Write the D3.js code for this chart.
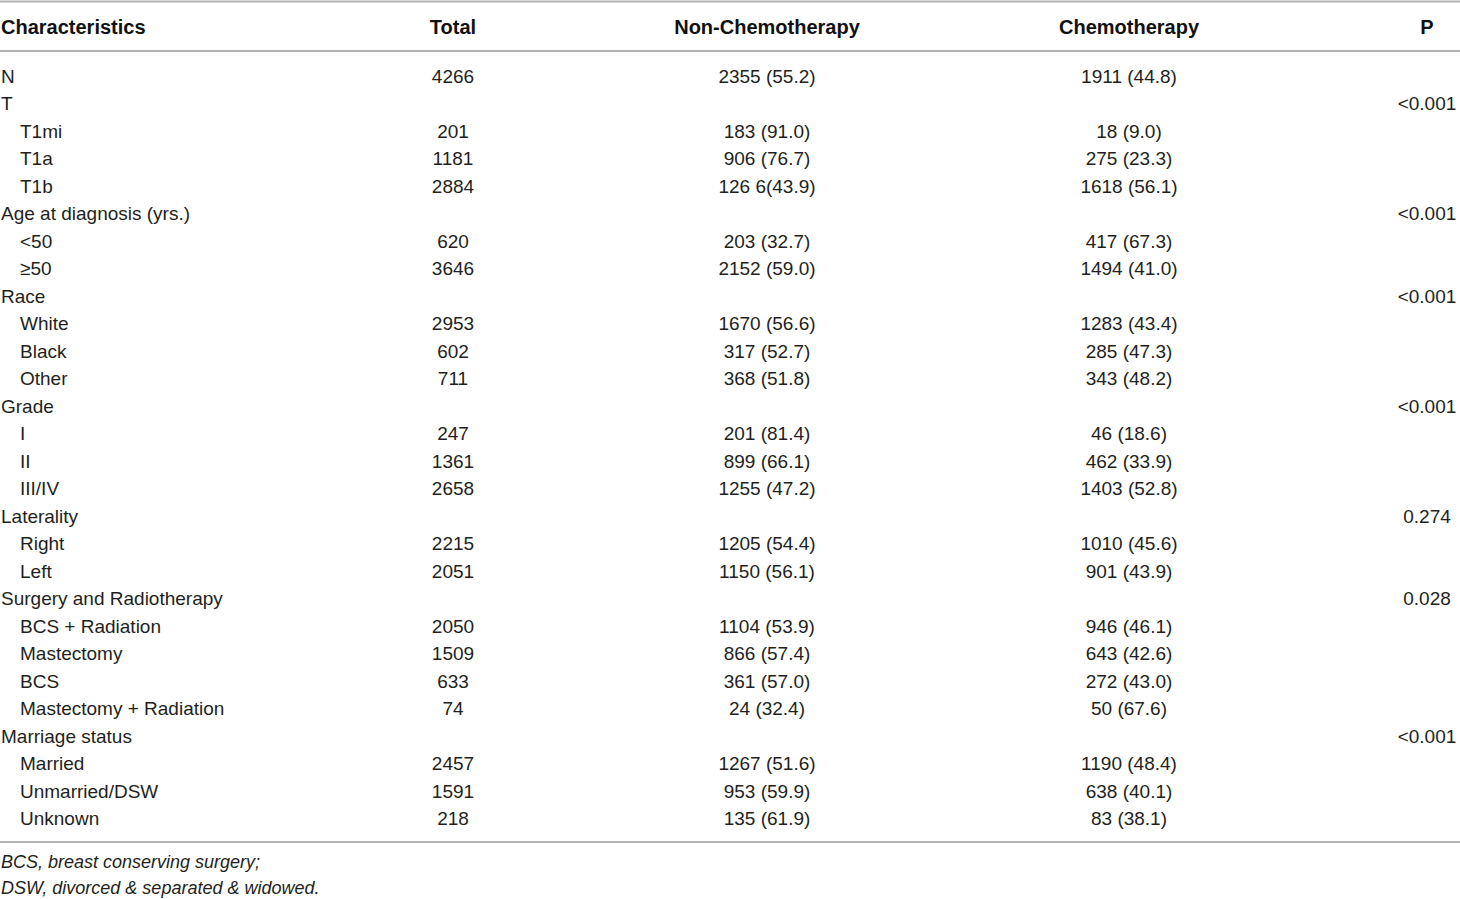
<!DOCTYPE html>
<html>
<head>
<meta charset="utf-8">
<script src="https://cdn.jsdelivr.net/npm/d3@7"></script>
<style>
  html, body { margin: 0; padding: 0; background: #fff; }
  svg { display: block; }
</style>
</head>
<body>
<div id="table-container"></div>
<script>
const headers = ['Characteristics', 'Total', 'Non-Chemotherapy', 'Chemotherapy', 'P'];

const labels = ['N', 'T', 'T1mi', 'T1a', 'T1b', 'Age at diagnosis (yrs.)', '<50', '\u226550',
  'Race', 'White', 'Black', 'Other', 'Grade', 'I', 'II', 'III/IV',
  'Laterality', 'Right', 'Left', 'Surgery and Radiotherapy', 'BCS + Radiation', 'Mastectomy', 'BCS',
  'Mastectomy + Radiation', 'Marriage status', 'Married', 'Unmarried/DSW', 'Unknown'];

const indented = [0, 0, 1, 1, 1, 0, 1, 1, 0, 1, 1, 1, 0, 1, 1, 1, 0, 1, 1, 0, 1, 1, 1, 1, 0, 1, 1, 1];

const totals = ['4266', '', '201', '1181', '2884', '', '620', '3646', '', '2953', '602', '711',
  '', '247', '1361', '2658', '', '2215', '2051', '', '2050', '1509', '633', '74', '', '2457', '1591', '218'];

const nonChemo = ['2355 (55.2)', '', '183 (91.0)', '906 (76.7)', '126 6(43.9)', '', '203 (32.7)', '2152 (59.0)',
  '', '1670 (56.6)', '317 (52.7)', '368 (51.8)', '', '201 (81.4)', '899 (66.1)', '1255 (47.2)',
  '', '1205 (54.4)', '1150 (56.1)', '', '1104 (53.9)', '866 (57.4)', '361 (57.0)', '24 (32.4)',
  '', '1267 (51.6)', '953 (59.9)', '135 (61.9)'];

const chemo = ['1911 (44.8)', '', '18 (9.0)', '275 (23.3)', '1618 (56.1)', '', '417 (67.3)', '1494 (41.0)',
  '', '1283 (43.4)', '285 (47.3)', '343 (48.2)', '', '46 (18.6)', '462 (33.9)', '1403 (52.8)',
  '', '1010 (45.6)', '901 (43.9)', '', '946 (46.1)', '643 (42.6)', '272 (43.0)', '50 (67.6)',
  '', '1190 (48.4)', '638 (40.1)', '83 (38.1)'];

const pValues = ['', '<0.001', '', '', '', '<0.001', '', '', '<0.001', '', '', '', '<0.001', '', '', '',
  '0.274', '', '', '0.028', '', '', '', '', '<0.001', '', '', ''];

const notes = ['BCS, breast conserving surgery;', 'DSW, divorced & separated & widowed.'];

const width = 1460;
const height = 899;
const font = '"Liberation Sans", Arial, Helvetica, sans-serif';
const ruleColor = '#b3b3b3';

const svg = d3.select('#table-container')
  .append('svg')
  .attr('width', width)
  .attr('height', height);

// row positions (text baselines)
const rowIdx = d3.range(labels.length);
const yRow = d3.scaleLinear()
  .domain([0, labels.length - 1])
  .range([83, 825]);

// column centres for the numeric columns
const colX = d3.scaleOrdinal()
  .domain(headers.slice(1))
  .range([453, 767, 1129, 1427]);

// horizontal rules
[1.5, 51, 842].forEach(y => {
  svg.append('line')
    .attr('x1', 0).attr('x2', width)
    .attr('y1', y).attr('y2', y)
    .attr('stroke', ruleColor).attr('stroke-width', 2);
});

// header
const head = svg.append('g')
  .attr('font-family', font)
  .attr('font-weight', 'bold')
  .attr('font-size', '20px')
  .attr('fill', '#111');

head.append('text')
  .attr('x', 1)
  .attr('y', 34)
  .text(headers[0]);

head.selectAll('.colhead')
  .data(headers.slice(1))
  .enter()
  .append('text')
  .attr('class', 'colhead')
  .attr('x', d => colX(d))
  .attr('y', 34)
  .attr('text-anchor', 'middle')
  .text(d => d);

// body
const body = svg.append('g')
  .attr('font-family', font)
  .attr('font-size', '19px')
  .attr('fill', '#231f20');

body.selectAll('.label')
  .data(rowIdx)
  .enter()
  .append('text')
  .attr('class', 'label')
  .attr('x', i => indented[i] ? 20 : 1)
  .attr('y', i => yRow(i))
  .text(i => labels[i]);

const columns = [
  { key: 'Total', values: totals },
  { key: 'Non-Chemotherapy', values: nonChemo },
  { key: 'Chemotherapy', values: chemo },
  { key: 'P', values: pValues }
];

columns.forEach(col => {
  body.selectAll(null)
    .data(rowIdx.filter(i => col.values[i] !== ''))
    .enter()
    .append('text')
    .attr('x', colX(col.key))
    .attr('y', i => yRow(i))
    .attr('text-anchor', 'middle')
    .text(i => col.values[i]);
});

// footnotes
svg.append('g')
  .attr('font-family', font)
  .attr('font-size', '18px')
  .attr('font-style', 'italic')
  .attr('fill', '#231f20')
  .selectAll('text')
  .data(notes)
  .enter()
  .append('text')
  .attr('x', 1)
  .attr('y', (d, i) => 868 + i * 26)
  .text(d => d);
</script>
</body>
</html>
